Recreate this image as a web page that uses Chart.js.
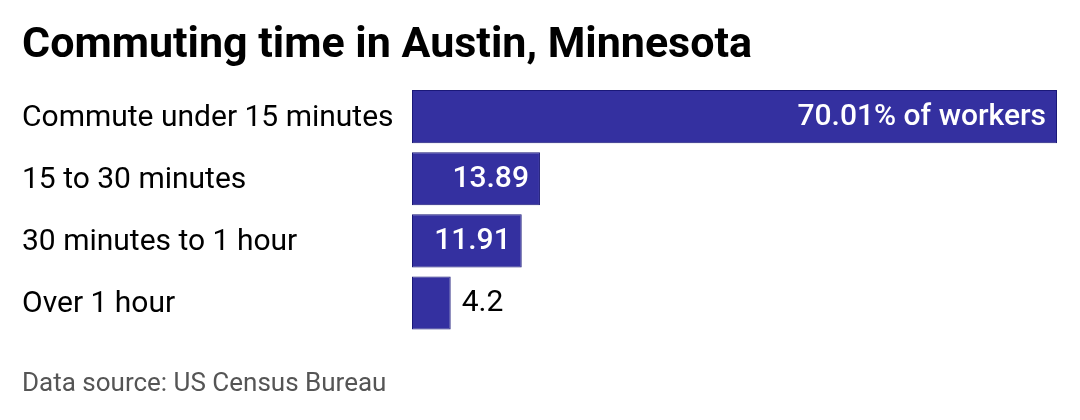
<!DOCTYPE html>
<html>
<head>
<meta charset="utf-8">
<script src="https://cdn.jsdelivr.net/npm/chart.js@4"></script>
<style>
  html, body { margin: 0; padding: 0; background: #fff; }
  #wrap { width: 1080px; height: 420px; }
</style>
</head>
<body>
<div id="wrap"><canvas id="myChart"></canvas></div>
<script>
const categories = [
    'Commute under 15 minutes',
    '15 to 30 minutes',
    '30 minutes to 1 hour',
    'Over 1 hour',
]
const shares = [70.01, 13.89, 11.91, 4.2] /* % of workers */
const valueLabels = ['70.01% of workers', '13.89', '11.91', '4.2']

// value labels at the end of each bar
const barLabels = {
    id: 'barLabels',
    afterDatasetsDraw(chart) {
        const ctx = chart.ctx;
        const meta = chart.getDatasetMeta(0);
        ctx.save();
        ctx.textBaseline = 'middle';
        meta.data.forEach((bar, i) => {
            const txt = valueLabels[i];
            ctx.font = '30px Roboto';
            const w = ctx.measureText(txt).width;
            const len = bar.x - bar.base;
            if (len > w + 20) {
                ctx.font = '500 30px Roboto';
                ctx.fillStyle = '#fff';
                ctx.textAlign = 'right';
                ctx.fillText(txt, bar.x - 11, bar.y + 1);
            } else {
                ctx.fillStyle = '#000';
                ctx.textAlign = 'left';
                ctx.fillText(txt, bar.x + 11, bar.y + 1);
            }
        });
        ctx.restore();
    }
};

const data = {
    labels: categories,
    datasets: [{
        data: shares,
        backgroundColor: 'rgb(52, 48, 160)',
        borderColor: 'rgb(26, 24, 120)',
        borderWidth: 1,
        borderSkipped: false,
        barPercentage: 0.855,
        categoryPercentage: 1
    }]
};

const config = {
    type: 'bar',
    data: data,
    options: {
        indexAxis: 'y',
        responsive: true,
        maintainAspectRatio: false,
        animation: false,
        layout: { padding: { top: 20, left: 22, right: 23, bottom: 23 } },
        plugins: {
            legend: { display: false },
            tooltip: { enabled: false },
            title: {
                display: true,
                text: 'Commuting time in Austin, Minnesota',
                align: 'start',
                color: '#000',
                font: { family: 'Roboto', size: 43, weight: 'bold', lineHeight: 1.2 },
                padding: { top: 0, bottom: 14 }
            },
            subtitle: {
                display: true,
                position: 'bottom',
                text: 'Data source: US Census Bureau',
                align: 'start',
                color: '#555',
                font: { family: 'Roboto', size: 26, lineHeight: 1 },
                padding: { top: 37, bottom: 0 }
            }
        },
        scales: {
            x: { display: false, min: 0, max: 70.01 },
            y: {
                grid: { display: false },
                border: { display: false },
                ticks: {
                    crossAlign: 'far',
                    labelOffset: 2,
                    color: '#000',
                    font: { family: 'Roboto', size: 30 }
                },
                afterFit(axis) { axis.width = 390; }
            }
        }
    },
    plugins: [barLabels]
};

const myChart = new Chart(
    document.getElementById('myChart'),
    config
);
</script>
</body>
</html>
